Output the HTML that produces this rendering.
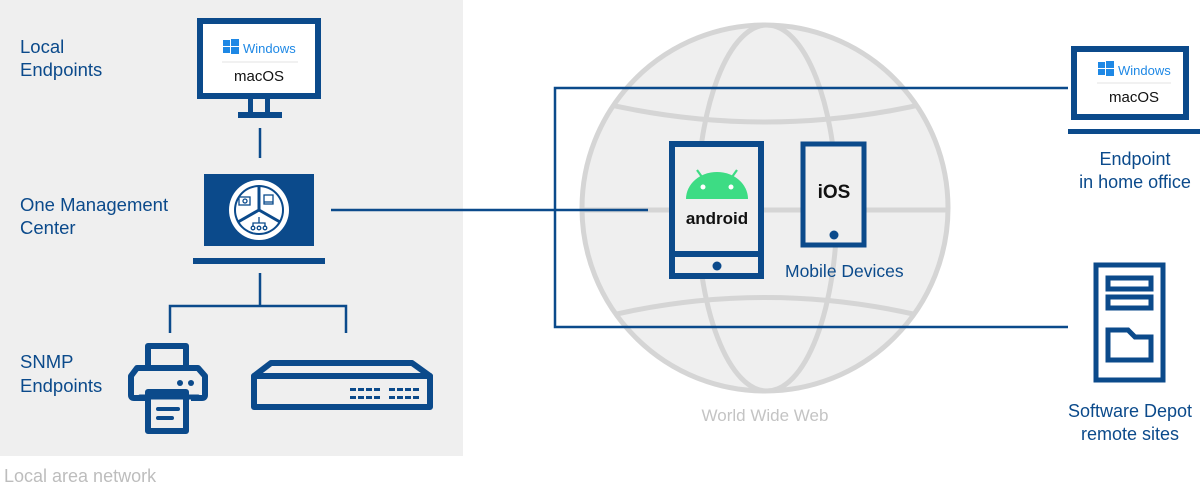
<!DOCTYPE html>
<html><head><meta charset="utf-8"><style>
html,body{margin:0;padding:0;background:#fff;}
svg{display:block;}
text{font-family:"Liberation Sans",sans-serif;}
</style></head><body>
<svg width="1200" height="483" viewBox="0 0 1200 483" xmlns="http://www.w3.org/2000/svg">
<defs><clipPath id="gc"><circle cx="765" cy="208" r="183"/></clipPath></defs>
<rect x="0" y="0" width="463" height="456" fill="#efefef"/>
<text x="4" y="482" font-size="18" fill="#bdbdbd">Local area network</text>
<g font-size="18.5" fill="#0b4a8b">
<text x="20" y="53">Local</text><text x="20" y="76">Endpoints</text>
<text x="20" y="211">One Management</text><text x="20" y="234">Center</text>
<text x="20" y="368">SNMP</text><text x="20" y="392">Endpoints</text>
</g>
<!-- globe -->
<circle cx="765" cy="208" r="183" fill="#efefef" stroke="#d5d5d5" stroke-width="5"/>
<g clip-path="url(#gc)" fill="none" stroke="#d5d5d5" stroke-width="5">
<ellipse cx="767" cy="208" rx="70" ry="183"/>
<line x1="580" y1="210" x2="950" y2="210"/>
<path d="M560 92 Q765 152 970 92"/>
<path d="M560 329 Q765 266 970 329"/>
</g>
<text x="765" y="421" font-size="17" fill="#c4c4c4" text-anchor="middle">World Wide Web</text>
<!-- connectors -->
<g stroke="#0b4a8b" stroke-width="2.5" fill="none">
<line x1="260" y1="128" x2="260" y2="158"/>
<line x1="260" y1="273" x2="260" y2="306"/>
<path d="M170 333 V306 H346 V333"/>
<line x1="331" y1="210" x2="648" y2="210"/>
<path d="M1068 88 H555 V327 H1068"/>
</g>
<!-- local monitor -->
<rect x="200" y="21" width="118" height="75" fill="#fff" stroke="#0b4a8b" stroke-width="6"/>
<rect x="248" y="98" width="5" height="15" fill="#0b4a8b"/><rect x="265" y="98" width="5" height="15" fill="#0b4a8b"/>
<rect x="238" y="112" width="44" height="6" fill="#0b4a8b"/>
<g>
<rect x="223" y="40" width="7" height="6" fill="#1e88e5"/><rect x="231" y="39" width="8" height="7" fill="#1e88e5"/>
<rect x="223" y="47" width="7" height="6" fill="#1e88e5"/><rect x="231" y="47" width="8" height="7" fill="#1e88e5"/>
<text x="243" y="53" font-size="13" fill="#1e88e5">Windows</text>
<line x1="222" y1="62" x2="298" y2="62" stroke="#e3e3e3" stroke-width="1"/>
<text x="259" y="81" font-size="15" fill="#111" text-anchor="middle">macOS</text>
</g>
<!-- OMC -->
<rect x="204" y="174" width="110" height="72" fill="#0b4a8b"/>
<circle cx="259" cy="210" r="30" fill="#fff"/>
<circle cx="259" cy="210" r="25" fill="#0b4a8b"/>
<circle cx="259" cy="210" r="23" fill="#fff"/>
<g stroke="#0b4a8b" stroke-width="3"><line x1="259" y1="210" x2="259" y2="186"/><line x1="259" y1="210" x2="238" y2="222"/><line x1="259" y1="210" x2="280" y2="222"/></g>
<g stroke="#0b4a8b" stroke-width="1.3" fill="none">
<rect x="239" y="197" width="11" height="8"/><circle cx="245" cy="201" r="2"/>
<rect x="264" y="195" width="9" height="9"/><line x1="264" y1="202" x2="273" y2="202"/>
<circle cx="253" cy="228" r="1.8"/><circle cx="259" cy="228" r="1.8"/><circle cx="265" cy="228" r="1.8"/>
<path d="M259 217 V223 M253 226 V223 H265 V226"/>
</g>
<rect x="193" y="258" width="132" height="6" fill="#0b4a8b"/>
<!-- printer -->
<g stroke="#0b4a8b" stroke-width="6" fill="none" stroke-linejoin="round">
<rect x="148" y="346" width="38" height="22"/>
<path d="M145 398 H134 Q131 398 131 395 V376 L137 368 H198 L205 376 V395 Q205 398 202 398 H191"/>
<rect x="148" y="392" width="38" height="39"/>
</g>
<line x1="140" y1="397" x2="198" y2="397" stroke="#0b4a8b" stroke-width="5" stroke-linecap="round"/>
<circle cx="180" cy="383" r="3" fill="#0b4a8b"/><circle cx="191" cy="383" r="3" fill="#0b4a8b"/>
<line x1="158" y1="409" x2="178" y2="409" stroke="#0b4a8b" stroke-width="4" stroke-linecap="round"/>
<line x1="158" y1="418" x2="172" y2="418" stroke="#0b4a8b" stroke-width="4" stroke-linecap="round"/>
<!-- switch -->
<g stroke="#0b4a8b" stroke-width="6" fill="none" stroke-linejoin="round">
<path d="M254 376 L271 363 H412 L430 376 Z"/>
<rect x="254" y="376" width="176" height="31"/>
</g>
<g fill="#0b4a8b">
<rect x="350" y="388" width="6" height="3"/><rect x="358" y="388" width="6" height="3"/><rect x="366" y="388" width="6" height="3"/><rect x="374" y="388" width="6" height="3"/>
<rect x="350" y="396" width="6" height="3"/><rect x="358" y="396" width="6" height="3"/><rect x="366" y="396" width="6" height="3"/><rect x="374" y="396" width="6" height="3"/>
<rect x="389" y="388" width="6" height="3"/><rect x="397" y="388" width="6" height="3"/><rect x="405" y="388" width="6" height="3"/><rect x="413" y="388" width="6" height="3"/>
<rect x="389" y="396" width="6" height="3"/><rect x="397" y="396" width="6" height="3"/><rect x="405" y="396" width="6" height="3"/><rect x="413" y="396" width="6" height="3"/>
</g>
<!-- tablet -->
<rect x="672" y="144" width="89" height="132" fill="#efefef" stroke="#0b4a8b" stroke-width="6"/>
<line x1="672" y1="254" x2="761" y2="254" stroke="#0b4a8b" stroke-width="6"/>
<circle cx="717" cy="266" r="4.5" fill="#0b4a8b"/>
<path d="M686 199 A31 27 0 0 1 748 199 Z" fill="#3ddc84"/>
<g stroke="#3ddc84" stroke-width="2.2"><line x1="702" y1="177" x2="697" y2="170"/><line x1="732" y1="177" x2="737" y2="170"/></g>
<circle cx="703" cy="187" r="2.5" fill="#fff"/><circle cx="731" cy="187" r="2.5" fill="#fff"/>
<text x="717" y="224" font-size="17" font-weight="bold" fill="#111" text-anchor="middle">android</text>
<!-- phone -->
<rect x="803" y="144" width="61" height="101" fill="#efefef" stroke="#0b4a8b" stroke-width="5"/>
<circle cx="834" cy="235" r="4.5" fill="#0b4a8b"/>
<text x="834" y="198" font-size="19" font-weight="bold" fill="#111" text-anchor="middle">iOS</text>
<text x="785" y="277" font-size="17.5" fill="#0b4a8b">Mobile Devices</text>
<!-- remote laptop -->
<rect x="1074" y="49" width="112" height="68" fill="#fff" stroke="#0b4a8b" stroke-width="6"/>
<rect x="1068" y="129" width="132" height="5" fill="#0b4a8b"/>
<rect x="1098" y="62" width="7" height="6" fill="#1e88e5"/><rect x="1106" y="61" width="8" height="7" fill="#1e88e5"/>
<rect x="1098" y="69" width="7" height="6" fill="#1e88e5"/><rect x="1106" y="69" width="8" height="7" fill="#1e88e5"/>
<text x="1118" y="75" font-size="13" fill="#1e88e5">Windows</text>
<line x1="1097" y1="83" x2="1171" y2="83" stroke="#e3e3e3" stroke-width="1"/>
<text x="1134" y="102" font-size="15" fill="#111" text-anchor="middle">macOS</text>
<g font-size="18" fill="#0b4a8b" text-anchor="middle">
<text x="1135" y="165">Endpoint</text><text x="1135" y="188">in home office</text>
<text x="1130" y="417">Software Depot</text><text x="1130" y="440">remote sites</text>
</g>
<!-- server -->
<g stroke="#0b4a8b" stroke-width="5" fill="none">
<rect x="1096" y="265" width="67" height="115"/>
<rect x="1108" y="278" width="43" height="11"/>
<rect x="1108" y="297" width="43" height="11"/>
<path d="M1108 360 V330 H1128 L1135 337 H1151 V360 Z"/>
</g>
</svg>
</body></html>
